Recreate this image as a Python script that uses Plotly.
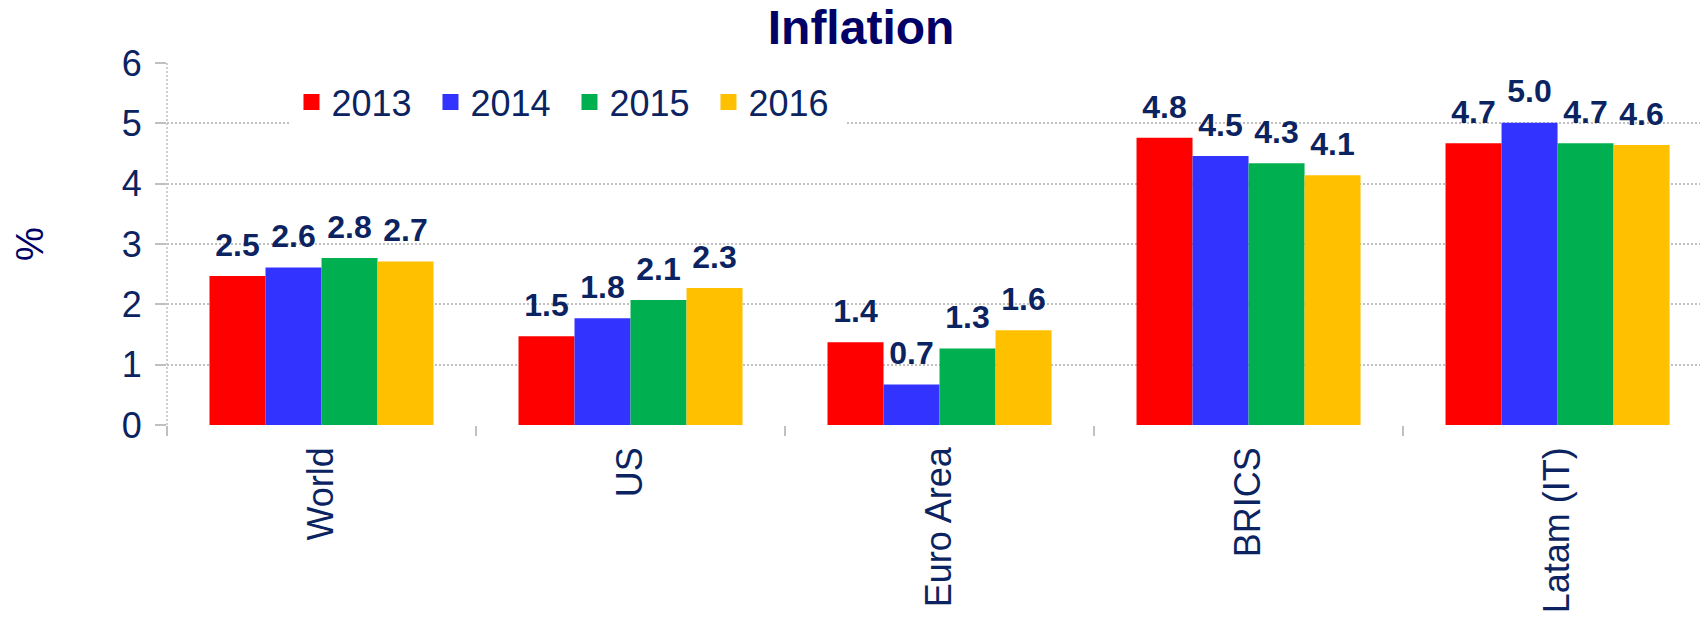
import plotly.graph_objects as go

categories = ["World", "US", "Euro Area", "BRICS", "Latam (IT)"]
years = ["2013", "2014", "2015", "2016"]
v2013 = [2.47, 1.47, 1.37, 4.76, 4.67]
v2014 = [2.61, 1.77, 0.67, 4.46, 5.01]
v2015 = [2.77, 2.07, 1.27, 4.34, 4.67]
v2016 = [2.71, 2.27, 1.57, 4.14, 4.64]
series = [v2013, v2014, v2015, v2016]
colors = ["#FF0000", "#3333FF", "#00B050", "#FFC000"]
y_ticks = [0, 1, 2, 3, 4, 5, 6]

NAVY = "#0B2461"
FONT = "Liberation Sans, Arial, sans-serif"
GRID = "#C0C0C0"

fig = go.Figure()
for yr, vals, col in zip(years, series, colors):
    fig.add_trace(go.Bar(x=categories, y=vals, marker=dict(color=col, line=dict(width=0)),
                         showlegend=False, hoverinfo="skip", offsetgroup=yr))
for yr, vals, col in zip(years, series, colors):
    fig.add_trace(go.Scatter(x=categories, y=vals, mode="markers+text",
                             marker=dict(size=18, opacity=0, color=col),
                             texttemplate="<b>%{y:.1f}</b>", textposition="top center",
                             textfont=dict(family=FONT, size=32, color=NAVY),
                             cliponaxis=False, showlegend=False, hoverinfo="skip",
                             offsetgroup=yr))
for yr, col in zip(years, colors):
    fig.add_trace(go.Scatter(x=[None], y=[None], mode="markers", name=yr,
                             marker=dict(symbol="square", size=19, color=col),
                             offsetgroup=yr, hoverinfo="skip"))

fig.update_layout(
    width=1700, height=620,
    margin=dict(l=167, r=0, t=63, b=195),
    paper_bgcolor="white", plot_bgcolor="white",
    barmode="group", bargap=0.275, bargroupgap=0,
    scattermode="group", scattergap=0.275,
    title=dict(text="<b>Inflation</b>", x=0.5065, xanchor="center", y=1 - 27.5 / 620, yanchor="middle",
               font=dict(family=FONT, size=48, color="#000066")),
    legend=dict(orientation="h", x=0.0812, xanchor="left", y=0.975, yanchor="top",
                bgcolor="white", font=dict(family=FONT, size=36, color=NAVY),
                itemwidth=30, entrywidth=94, traceorder="normal"),
    xaxis=dict(type="category", range=[-0.5, 4.461], tickson="boundaries", ticks="outside",
               ticklen=10, tickwidth=1.5, tickcolor=GRID, tickangle=-90, ticklabelstandoff=14,
               tickfont=dict(family=FONT, size=36, color=NAVY),
               showgrid=False, showline=False, zeroline=False),
    yaxis=dict(range=[0, 6], tickvals=y_ticks, showgrid=True, gridcolor=GRID, gridwidth=1.5,
               griddash="2px,2px", ticks="outside", ticklen=11, tickwidth=1.5, tickcolor=GRID,
               ticklabelstandoff=6,
               tickfont=dict(family=FONT, size=36, color=NAVY), zeroline=False, showline=False),
    shapes=[dict(type="line", xref="paper", yref="paper", x0=0, x1=0, y0=0, y1=1,
                 line=dict(color=GRID, width=1.5, dash="2px,2px"), layer="below")],
    annotations=[dict(text="%", xref="paper", yref="paper", x=(30 - 167) / 1533, y=0.5,
                      xanchor="center", yanchor="middle", textangle=-90, showarrow=False,
                      font=dict(family=FONT, size=38, color="#000066"))],
)

fig.write_html("out.html", config={"displayModeBar": False},
               post_script="document.body.style.margin='0';")
